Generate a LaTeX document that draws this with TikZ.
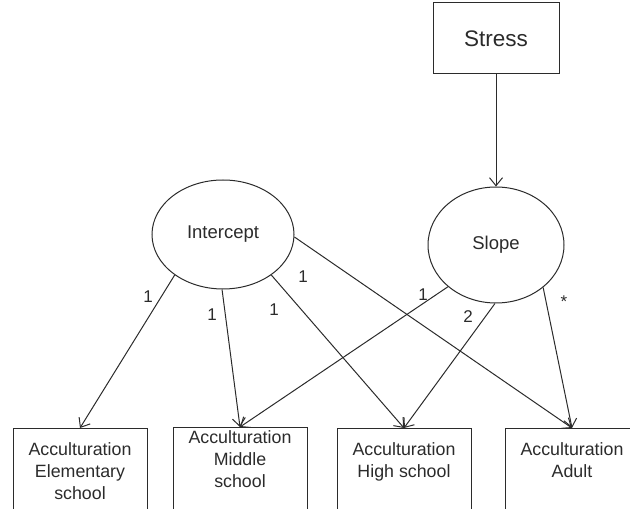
\documentclass[tikz,border=0pt]{standalone}
\usepackage{fontspec}
\setmainfont{Liberation Sans}
\usetikzlibrary{shapes.geometric, arrows.meta, positioning}
\definecolor{inkgray}{HTML}{2B2B2B}

\begin{document}
\begin{tikzpicture}[
    x=1pt, y=1pt,
    every node/.style={text=inkgray},
    latent/.style={ellipse, draw=inkgray, line width=1pt, inner sep=0pt, font=\fontsize{18.5}{22}\selectfont},
    indicator/.style={rectangle, draw=inkgray, line width=1pt, minimum width=134pt, inner ysep=0pt, anchor=north, align=center, font=\fontsize{17.8}{22}\selectfont},
    cause/.style={rectangle, draw=inkgray, line width=1pt, minimum width=126pt, minimum height=71pt, font=\fontsize{22.5}{27}\selectfont},
    coef/.style={inner sep=0pt, font=\fontsize{17}{20}\selectfont},
    arrow/.style={draw=inkgray, line width=1pt, -{Straight Barb[length=8pt, width=13pt]}}
]
    \clip (0,0) rectangle (630,509);

    \node[cause] (stress) at (496,470.5) {Stress};
    \node[latent, minimum width=142pt, minimum height=109pt] (intercept) at (223,274.5) {Intercept};
    \node[latent, minimum width=136pt, minimum height=116pt] (slope) at (496,264) {Slope};

    \node[indicator, text height=71pt, text depth=16pt] (elem) at (80,81) {Acculturation\\Elementary\\school};
    \node[indicator, text height=60pt, text depth=29pt] (middle) at (240,82) {Acculturation\\Middle\\school};
    \node[indicator, text height=49pt, text depth=38pt] (high) at (404,81) {Acculturation\\High school};
    \node[indicator, text height=49pt, text depth=38pt] (adult) at (572,81) {Acculturation\\Adult};

    \draw[arrow] (stress) -- (slope);

    \draw[arrow] (intercept.220) -- (elem.north);
    \draw[arrow] (intercept.269) -- (middle.north);
    \draw[arrow] (intercept.320) -- (high.north);
    \draw[arrow] (intercept.358) -- (adult.north);
    \draw[arrow] (slope.221) -- (middle.north);
    \draw[arrow] (slope.269) -- (high.north);
    \draw[arrow] (slope.318) -- (adult.north);

    % loadings
    \node[coef] (l1) at (148,212) {1};
    \node[coef] (l2) at (212,194) {1};
    \node[coef] (l3) at (274,199) {1};
    \node[coef] (l4) at (303,232) {1};
    \node[coef] (s1) at (423,214) {1};
    \node[coef] (s2) at (468,192) {2};
    \node[coef] (s3) at (564,207.5) {*};
\end{tikzpicture}
\end{document}
